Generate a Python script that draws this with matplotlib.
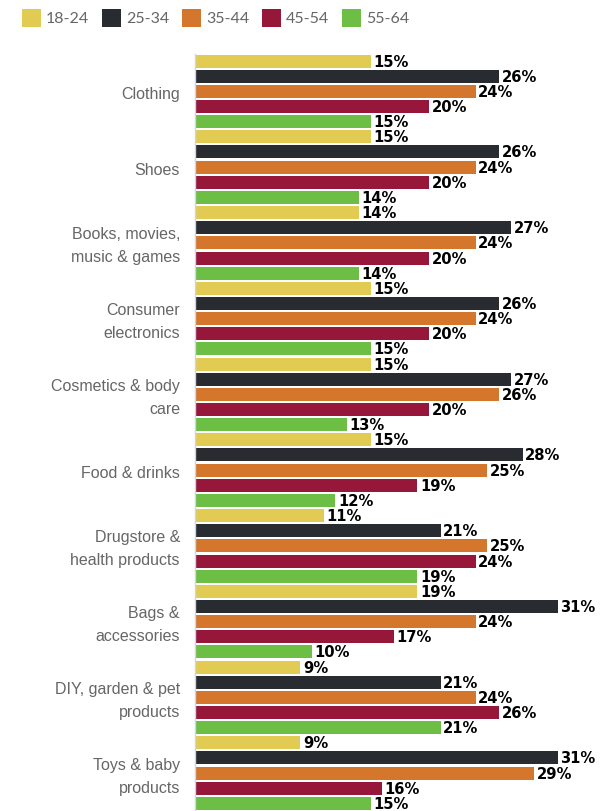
import matplotlib
matplotlib.use("Agg")
import matplotlib.pyplot as plt
import matplotlib.transforms as mtransforms
from matplotlib.patches import Rectangle

categories = ["Clothing", "Shoes", "Books, movies,\nmusic & games", "Consumer\nelectronics",
              "Cosmetics & body\ncare", "Food & drinks", "Drugstore &\nhealth products",
              "Bags &\naccessories", "DIY, garden & pet\nproducts", "Toys & baby\nproducts"]
series_names = ["18-24", "25-34", "35-44", "45-54", "55-64"]
s18_24 = [15, 15, 14, 15, 15, 15, 11, 19, 9, 9]
s25_34 = [26, 26, 27, 26, 27, 28, 21, 31, 21, 31]
s35_44 = [24, 24, 24, 24, 26, 25, 25, 24, 24, 29]
s45_54 = [20, 20, 20, 20, 20, 19, 24, 17, 26, 16]
s55_64 = [15, 14, 14, 15, 13, 12, 19, 10, 21, 15]
series = [s18_24, s25_34, s35_44, s45_54, s55_64]
colors = ["#e2cb52", "#282c30", "#d4762c", "#961739", "#6dbe44"]

W, H = 602, 812
fig = plt.figure(figsize=(W / 100, H / 100), dpi=100)
ax = fig.add_axes([195 / W, 0, 1 - 195 / W, 1 - 54.5 / H])

n = len(series)
for j, (vals, c) in enumerate(zip(series, colors)):
    ys = [i * n + j + 0.5 for i in range(len(categories))]
    ax.barh(ys, vals, height=0.86, color=c, edgecolor="none")
    for y, v in zip(ys, vals):
        ax.text(v + 0.22, y, f"{v}%", va="center", ha="left", fontsize=10.6,
                fontweight="bold", color="black", family="DejaVu Sans")

ax.set_xlim(0, 407 / 11.7)
ax.set_ylim(n * len(categories), 0)
ax.set_yticks([])
ax.set_xticks([])
for s in ["top", "right", "bottom"]:
    ax.spines[s].set_visible(False)
ax.spines["left"].set_color("#ccd6eb")
ax.spines["left"].set_linewidth(1)

# category labels, one text per line, right-aligned 15px left of the axis
base = ax.get_yaxis_transform()
line_gap = 23  # px
for i, lab in enumerate(categories):
    lines = lab.split("\n")
    k = len(lines)
    yc = i * n + n / 2
    for m, line in enumerate(lines):
        dy_px = -((m - (k - 1) / 2) * line_gap) - 2.5
        tr = mtransforms.offset_copy(base, fig=fig, x=-15, y=dy_px, units="dots")
        ax.text(0, yc, line, transform=tr, ha="right", va="center", fontsize=11.5,
                color="#666666", family="Liberation Sans")

# legend
xs = [22, 102, 182, 262, 342]
for x, name, c in zip(xs, series_names, colors):
    fig.patches.append(Rectangle((x / W, 1 - 28 / H), 19 / W, 18 / H, transform=fig.transFigure,
                                 facecolor=c, edgecolor="none"))
    fig.text((x + 24) / W, 1 - 19 / H, name, fontsize=11.5, color="#666666", family="Lato",
             va="center", ha="left")

fig.savefig("out.png", dpi=100)
